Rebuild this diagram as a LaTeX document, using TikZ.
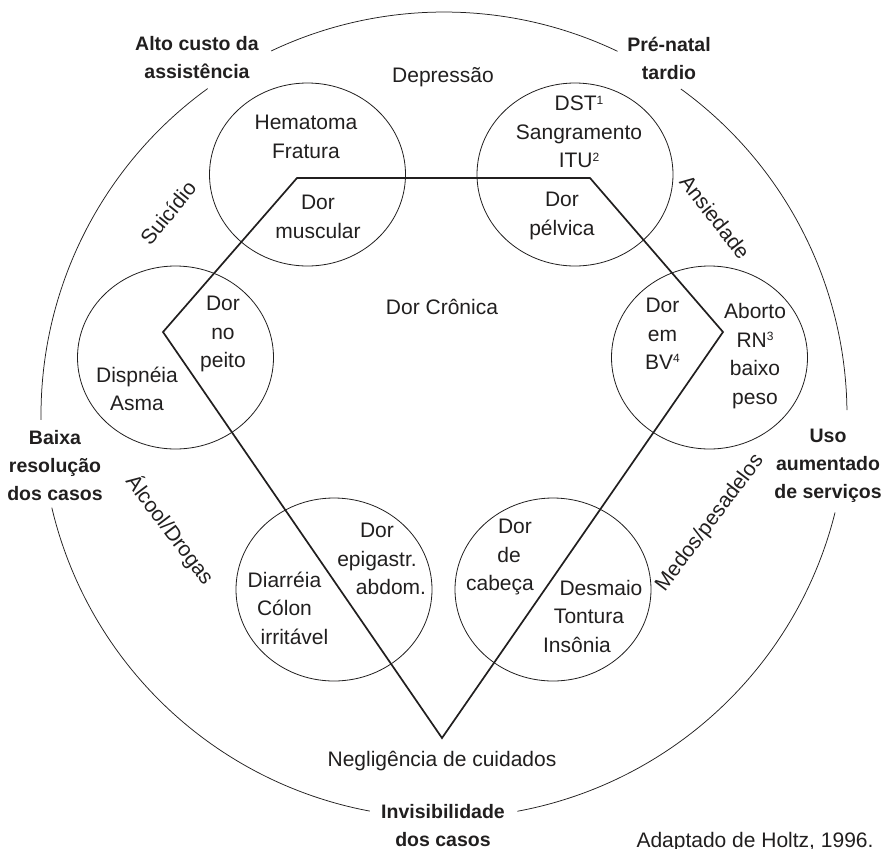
\documentclass[tikz,border=0pt]{standalone}
\usepackage{fontspec}
\setmainfont{Liberation Sans}
\usetikzlibrary{positioning,shapes.geometric}
\definecolor{ink}{rgb}{0.13,0.12,0.12}
\newcommand{\supno}[1]{\raisebox{0.62ex}{\fontsize{12}{12}\selectfont #1}}
\tikzset{
	mytext/.style={text=ink,align=center,inner sep=0pt,font=\fontsize{21}{28.5}\selectfont},
	mybold/.style={text=ink,align=center,inner sep=0pt,font=\fontsize{19.5}{28}\selectfont\bfseries},
	myblob/.style={draw=ink,ellipse,line width=0.8pt,minimum width=196pt,minimum height=183pt,inner sep=0pt},
	myrim/.style={draw=ink,line width=0.75pt},
	myline/.style={draw=ink,line width=1.7pt,line join=miter}
}

\begin{document}
\begin{tikzpicture}[x=1pt,y=-1pt]
		\useasboundingbox (0,0) rectangle (887,849);
		% outer ring, open where the bold labels sit
		\coordinate (ctr) at (444,415);
		\foreach \a/\b in {0.7/54,64.5/115.4,125.9/180.7,193.3/259.4,280.5/346}
			\draw[myrim] (ctr) ++(\a:403pt) arc[start angle=\a,end angle=\b,radius=403pt];
		\node[mybold](alto) at (197,58){Alto custo da\\assistência};
		\node[mybold](prenatal) at (669,58){Pré-natal\\tardio};
		\node[mybold](baixa) at (55,466){Baixa\\resolução\\dos casos};
		\node[mybold](uso) at (828,466){Uso\\aumentado\\de serviços};
		\node[mybold](invis) at (443,826){Invisibilidade\\dos casos};
		% the six circles
		\node[myblob](hema) at (307.5,174.5){};
		\node[myblob](dst) at (575,174.5){};
		\node[myblob](dispn) at (175.5,357.5){};
		\node[myblob](aborto) at (709.5,357.5){};
		\node[myblob](diarr) at (334,589.5){};
		\node[myblob](cabeca) at (553,589.5){};
		% chronic pain outline
		\coordinate (tl) at (297,178);
		\coordinate (tr) at (590,178);
		\coordinate (rt) at (723,332);
		\coordinate (bt) at (442,738);
		\coordinate (lf) at (163,332);
		\draw[myline] (tl) -- (tr) -- (rt) -- (bt) -- (lf) -- cycle;
		\node[mytext](cronica) at (442,307){Dor Crônica};
		\node[mytext,below = 13pt of bt](neglig){Negligência de cuidados};
		% texts inside the circles
		\node[mytext](hemaA) at (306,137){Hematoma\\Fratura};
		\node[mytext](hemaB) at (318,217){Dor\\muscular};
		\node[mytext](dstA) at (579,132){DST\supno{1}\\Sangramento\\ITU\supno{2}};
		\node[mytext](dstB) at (562,216){Dor\\pélvica};
		\node[mytext](dispnA) at (223,334){Dor\\no\\peito};
		\node[mytext](dispnB) at (137,389){Dispnéia\\Asma};
		\node[mytext](abortoA) at (662.5,334){Dor\\em\\BV\supno{4}};
		\node[mytext](abortoB) at (755,356){Aborto\\RN\supno{3}\\baixo\\peso};
		\node[mytext](diarrA) at (377,559){Dor\\epigastr.\\\hspace*{28pt}abdom.};
		\node[mytext](diarrB) at (284.5,608){Diarréia\\Cólon\\\hspace*{20pt}irritável};
		\node[mytext](cabecaA) at (509,557){\hspace*{12pt}Dor\\de\\cabeça\hspace*{18pt}};
		\node[mytext](cabecaB) at (589,616){\hspace*{24pt}Desmaio\\Tontura\\Insônia\hspace*{24pt}};
		% slanted words between the circles
		\node[mytext](depr) at (443,77){Depressão};
		\node[mytext,rotate=51](suic) at (168,213){Suicídio};
		\node[mytext,rotate=-52](ansied) at (715,217){Ansiedade};
		\node[mytext,rotate=-53](alcool) at (170,530){Álcool/Drogas};
		\node[mytext,rotate=53](medos) at (710,523){Medos/pesadelos};
		\node[mytext,anchor=base](fonte) at (755,847){Adaptado de Holtz, 1996.};
	\end{tikzpicture}
\end{document}
